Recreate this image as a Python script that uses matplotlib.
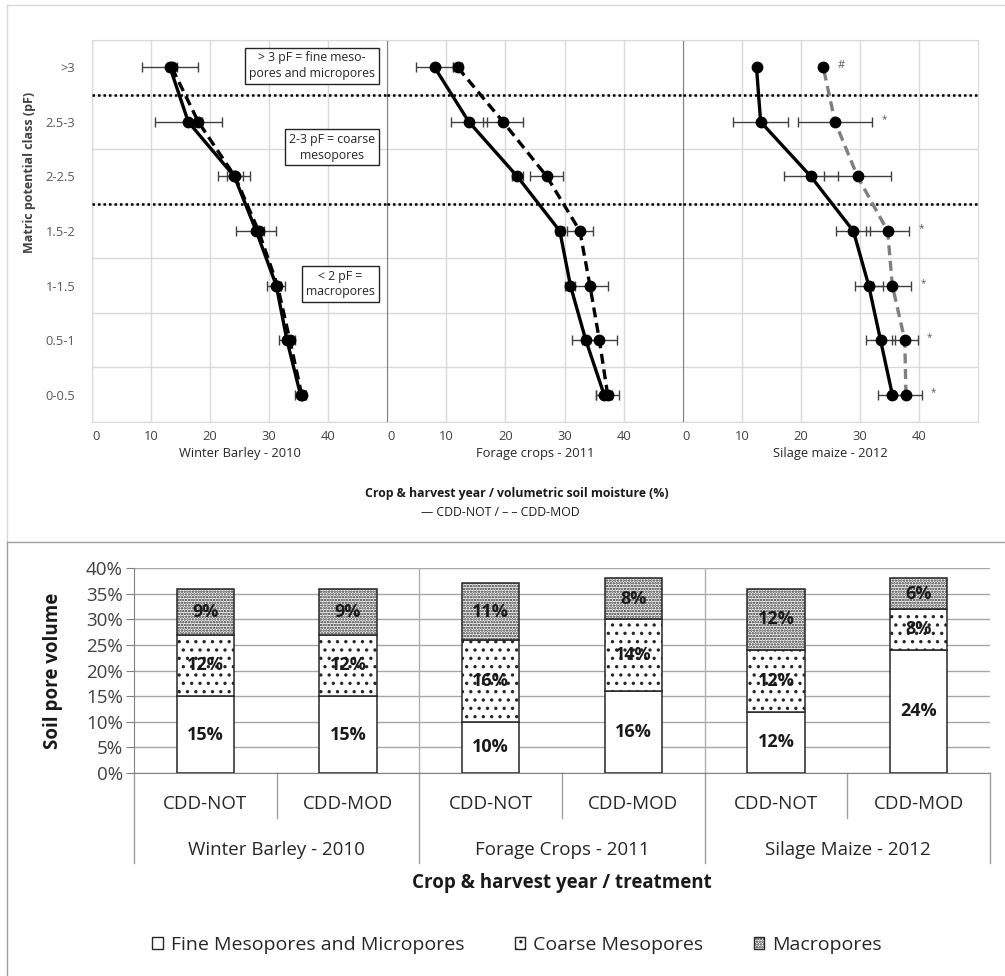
import numpy as np
import matplotlib
matplotlib.use('Agg')
import matplotlib.pyplot as plt
from matplotlib.patches import Patch
from matplotlib.lines import Line2D
import matplotlib.transforms as mtransforms

plt.rcParams['font.family'] = ['Open Sans', 'DejaVu Sans']
plt.rcParams['hatch.linewidth'] = 1.2

# ---------------- data: top panel (listed from 0-0.5 up to >3) ----------------
pf_classes = ['0-0.5', '0.5-1', '1-1.5', '1.5-2', '2-2.5', '2.5-3', '>3']
crops_top = ['Winter Barley - 2010', 'Forage crops - 2011', 'Silage maize - 2012']

wb_not = [35.3, 33.0, 31.2, 27.8, 24.1, 16.3, 13.2]
wb_not_err = [1.0, 1.4, 1.5, 3.4, 2.7, 5.7, 4.8]
wb_mod = [35.5, 33.5, 31.4, 28.2, 24.2, 18.0, 13.5]
wb_mod_err = [0.5, 0.6, 0.6, 0.85, 1.3, 0.6, 0.85]

fc_not = [36.7, 33.6, 31.0, 29.2, 22.0, 13.8, 8.0]
fc_not_err = [1.4, 2.4, 0.85, 0.7, 0.9, 3.0, 3.1]
fc_mod = [37.3, 35.9, 34.3, 32.6, 27.0, 19.6, 11.9]
fc_mod_err = [2.0, 2.9, 3.0, 2.25, 2.8, 3.4, 0.8]

sm_not = [35.5, 33.5, 31.5, 28.9, 21.7, 13.2, 12.5]
sm_not_err = [2.5, 2.4, 2.4, 2.9, 4.6, 4.6, 0.0]
sm_mod = [37.8, 37.6, 35.5, 34.7, 29.6, 25.8, 23.8]
sm_mod_err = [2.75, 2.2, 3.2, 3.6, 5.6, 6.3, 0.0]
sm_sig = ['*', '*', '*', '*', '', '*', '#']
sm_sig_x = [42.5, 41.8, 40.8, 40.4, 0.0, 34.1, 26.9]

top_x_ticks = [0, 10, 20, 30, 40]

# ---------------- data: bottom panel ----------------
treatments = ['CDD-NOT', 'CDD-MOD', 'CDD-NOT', 'CDD-MOD', 'CDD-NOT', 'CDD-MOD']
groups = ['Winter Barley - 2010', 'Forage Crops - 2011', 'Silage Maize - 2012']
fine = [15, 15, 10, 16, 12, 24]
coarse = [12, 12, 16, 14, 12, 8]
macro = [9, 9, 11, 8, 12, 6]
pore_names = ['Fine Mesopores and Micropores', 'Coarse Mesopores', 'Macropores']

W, H = 1005, 976
fig = plt.figure(figsize=(W / 100, H / 100), dpi=100)

def fx(px):
    return px / W

def fy(py):
    return 1 - py / H

# frames
fig.add_artist(Line2D([fx(7), fx(7)], [fy(5), fy(542)], transform=fig.transFigure, color='#d9d9d9', lw=1))
fig.add_artist(Line2D([fx(7), fx(1005)], [fy(5), fy(5)], transform=fig.transFigure, color='#d9d9d9', lw=1))
fig.add_artist(Line2D([fx(7), fx(1005)], [fy(542), fy(542)], transform=fig.transFigure, color='#a0a0a0', lw=1))
fig.add_artist(Line2D([fx(7), fx(7)], [fy(542), fy(976)], transform=fig.transFigure, color='#a0a0a0', lw=1))

TOP_FS = 9.3

# ---------------- top panels ----------------
series = [
    (wb_not, wb_not_err, wb_mod, wb_mod_err, 'black'),
    (fc_not, fc_not_err, fc_mod, fc_mod_err, 'black'),
    (sm_not, sm_not_err, sm_mod, sm_mod_err, '#7f7f7f'),
]
ypos = np.arange(len(pf_classes))
left0, right0 = 92, 978
pw = (right0 - left0) / 3
axes_top = []
for i, (nv, ne, mv, me, mcol) in enumerate(series):
    ax = fig.add_axes([fx(left0 + i * pw), fy(422), pw / W, (422 - 40) / H])
    axes_top.append(ax)
    ax.set_xlim(0, 50)
    ax.set_ylim(-0.5, 6.5)
    ax.set_xticks(top_x_ticks)
    ax.set_xticklabels([str(t) for t in top_x_ticks], fontsize=TOP_FS, color='#404040')
    ax.get_xticklabels()[0].set_ha('left')
    ax.tick_params(axis='x', length=0, pad=6)
    ax.set_yticks(ypos)
    ax.set_yticks(np.arange(-0.5, 7, 1), minor=True)
    if i == 0:
        ax.set_yticklabels(pf_classes, fontsize=TOP_FS, color='#595959')
        ax.tick_params(axis='y', which='both', length=0, pad=12)
    else:
        ax.tick_params(axis='y', which='both', length=0, labelleft=False)
    ax.grid(axis='x', which='major', color='#d9d9d9', lw=1)
    ax.grid(axis='y', which='minor', color='#d9d9d9', lw=1)
    ax.set_axisbelow(True)
    for s in ['top', 'bottom']:
        ax.spines[s].set_color('#d9d9d9')
    ax.spines['right'].set_color('#d9d9d9')
    if i < 2:
        ax.spines['right'].set_visible(False)
    ax.spines['left'].set_color('#d9d9d9' if i == 0 else '#808080')
    # dotted pF boundaries
    for yb in [5.5, 3.5]:
        ax.axhline(yb, color='black', lw=1.8, ls=(0, (1, 1.2)), zorder=3)
    # error bars
    ax.errorbar(nv, ypos, xerr=ne, fmt='none', ecolor='#404040', elinewidth=1, capsize=3.5, capthick=1, zorder=4)
    ax.errorbar(mv, ypos, xerr=me, fmt='none', ecolor='#404040', elinewidth=1, capsize=3.5, capthick=1, zorder=4)
    ax.plot(nv, ypos, color='black', lw=2.4, marker='o', ms=7.5, mfc='black', mec='black', zorder=5)
    ax.plot(mv, ypos, color=mcol, lw=2.4, ls=(0, (3, 1.7)), zorder=5)
    ax.plot(mv, ypos, ls='none', marker='o', ms=7.5, mfc='black', mec='black', zorder=6)
    ax.text(0.5, -0.083, crops_top[i], transform=ax.transAxes, ha='center', va='center', fontsize=TOP_FS,
            color='#262626')

# significance marks
ax3 = axes_top[2]
for s, xv, yv in zip(sm_sig, sm_sig_x, ypos):
    if s:
        ax3.text(xv, yv + (0.04 if s == '*' else 0.03), s, ha='center', va='center',
                 fontsize=8 if s == '#' else 7, color='#595959', zorder=6)

# annotation boxes (panel 1)
ax1 = axes_top[0]
box = dict(boxstyle='square,pad=0.3', fc='white', ec='#262626', lw=1)
for txt, yy in [('> 3 pF = fine meso-\npores and micropores', 0.933),
                ('2-3 pF = coarse\nmesopores', 0.719),
                ('< 2 pF =\nmacropores', 0.361)]:
    ax1.text(0.958, yy, txt, transform=ax1.transAxes, ha='right', va='center', fontsize=8.8, linespacing=1.25,
             bbox=box, zorder=7, color='#262626', multialignment='center')

fig.text(fx(30), fy(172), 'Matric potential class (pF)', rotation=90, ha='center', va='center', fontsize=9,
         fontweight='bold', color='#404040')
fig.text(fx(517), fy(493), 'Crop & harvest year / volumetric soil moisture (%)', ha='center', va='center',
         fontsize=8.8, fontweight='bold', color='#1a1a1a')
fig.text(fx(500), fy(513), '\u2014 CDD-NOT / \u2013 \u2013 CDD-MOD', ha='center', va='center', fontsize=8.8,
         color='#1a1a1a')

# ---------------- bottom panel ----------------
BOT_FS = 13.5
axb = fig.add_axes([fx(134), fy(773), (990 - 134) / W, (773 - 568) / H])
x = np.arange(len(treatments))
bw = 0.40
fine_a = np.array(fine)
coarse_a = np.array(coarse)
macro_a = np.array(macro)
hatches = ['', '..', '......']
b1 = axb.bar(x, fine_a, bw, color='white', edgecolor='#262626', lw=1.1, hatch=hatches[0], zorder=3)
b2 = axb.bar(x, coarse_a, bw, bottom=fine_a, color='white', edgecolor='#262626', lw=1.1, hatch=hatches[1], zorder=3)
b3 = axb.bar(x, macro_a, bw, bottom=fine_a + coarse_a, color='white', edgecolor='#262626', lw=1.1,
             hatch=hatches[2], zorder=3)
for cont, vals in [(b1, fine), (b2, coarse), (b3, macro)]:
    axb.bar_label(cont, labels=[f'{v}%' for v in vals], label_type='center', fontsize=13, fontweight='bold',
                  color='#1a1a1a', zorder=5)

axb.set_xlim(-0.5, len(treatments) - 0.5)
axb.set_ylim(0, 40)
axb.set_yticks(np.arange(0, 41, 5))
axb.set_yticklabels([f'{v}%' for v in range(0, 41, 5)], fontsize=BOT_FS, color='#404040')
axb.tick_params(axis='y', length=6, color='#808080', pad=2)
axb.set_xticks(x)
axb.set_xticklabels([])
axb.tick_params(axis='x', length=0)
axb.grid(axis='y', color='#a6a6a6', lw=1)
axb.set_axisbelow(True)
for s in ['top', 'right']:
    axb.spines[s].set_visible(False)
axb.spines['left'].set_color('#808080')
axb.spines['bottom'].set_color('#808080')
for xb in [1.5, 3.5]:
    axb.axvline(xb, color='#b0b0b0', lw=1, zorder=1)

trans = mtransforms.blended_transform_factory(axb.transData, axb.transAxes)
for i, t in enumerate(treatments):
    axb.text(i, -0.151, t, transform=trans, ha='center', va='center', fontsize=BOT_FS, color='#262626')
for g, name in enumerate(groups):
    axb.text(2 * g + 0.5, -0.376, name, transform=trans, ha='center', va='center', fontsize=BOT_FS, color='#262626')
for xb in np.arange(-0.5, len(treatments), 1):
    is_group = (round(xb + 0.5) % 2 == 0)
    y1 = -0.439 if is_group else -0.22
    axb.plot([xb, xb], [0, y1], transform=trans, color='#a0a0a0', lw=1, clip_on=False)
axb.text(0.5, -0.537, 'Crop & harvest year / treatment', transform=axb.transAxes, ha='center', va='center',
         fontsize=BOT_FS, fontweight='bold', color='#1a1a1a')
fig.text(fx(53), fy(671), 'Soil pore volume', rotation=90, ha='center', va='center', fontsize=13.5,
         fontweight='bold', color='#1a1a1a')

handles = [Patch(facecolor='white', edgecolor='#262626', hatch=h, lw=1) for h in hatches]
fig.legend(handles, pore_names, loc='center', bbox_to_anchor=(fx(517), fy(945)), ncol=3, frameon=False,
           fontsize=14, handlelength=0.55, handleheight=0.55, handletextpad=0.4, columnspacing=2.6,
           labelcolor='#262626')

fig.savefig('out.png', dpi=100)
